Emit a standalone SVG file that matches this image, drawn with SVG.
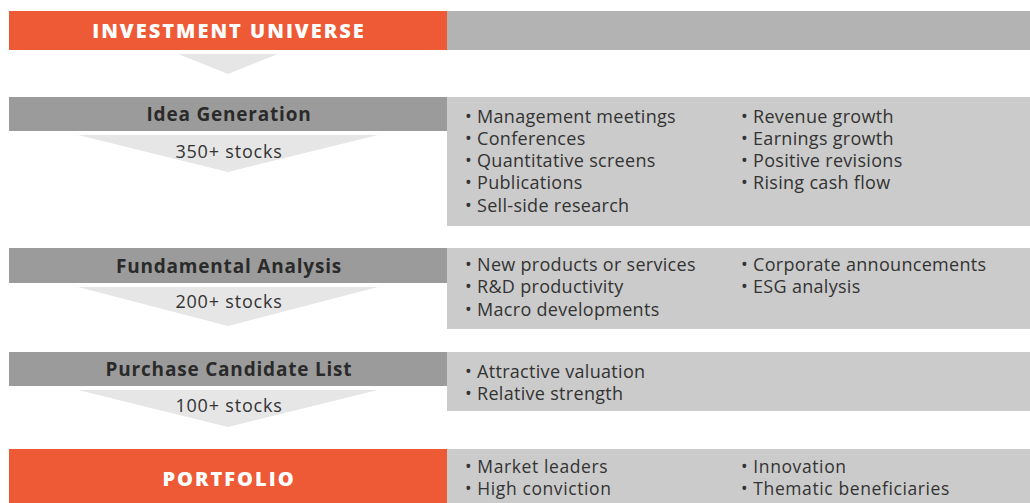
<svg xmlns="http://www.w3.org/2000/svg" width="1030" height="503" viewBox="0 0 1030 503">
<style>
.orange{fill:#ee5a36}
.dark{fill:#9b9b9b}
.panel{fill:#cbcbcb}
.toppanel{fill:#b3b3b3}
.chev{fill:#e6e6e6}
.title{font-family:"Open Sans","Liberation Sans",sans-serif;font-weight:700;font-size:19px;fill:#2a2a2a;text-anchor:middle;letter-spacing:0.8px}
.wtitle{font-family:"Open Sans","Liberation Sans",sans-serif;font-weight:800;font-size:20px;fill:#ffffff;text-anchor:middle;letter-spacing:2px}
.count{font-family:"Open Sans","Liberation Sans",sans-serif;font-size:18px;fill:#333333;text-anchor:middle;letter-spacing:0.8px}
.item{font-family:"Open Sans","Liberation Sans",sans-serif;font-size:18px;fill:#333333;letter-spacing:0.3px}
.pitem{font-family:"Open Sans","Liberation Sans",sans-serif;font-size:17.5px;fill:#333333;letter-spacing:0.6px}
</style>
<rect width="1030" height="503" fill="#ffffff"/>
<g id="connectors">
<polygon class="chev" points="178,54 278,54 228,74"/>
<polygon class="chev" points="78,135 378,135 228,172"/>
<polygon class="chev" points="78,287 378,287 228,326"/>
<polygon class="chev" points="78,390 378,390 228,427"/>
</g>
<g id="universe">
<rect class="orange" x="9" y="11" width="438" height="39"/>
<rect class="toppanel" x="447" y="11" width="583" height="39"/>
<text class="wtitle" x="229" y="38">INVESTMENT UNIVERSE</text>
</g>
<g id="idea">
<rect class="dark" x="9" y="97" width="438" height="34"/>
<rect class="panel" x="447" y="97" width="583" height="129"/>
<text class="title" x="229" y="121">Idea Generation</text>
<text class="count" x="229" y="158">350+ stocks</text>
<text class="item" x="465" y="123">• Management meetings</text>
<text class="item" x="465" y="145">• Conferences</text>
<text class="item" x="465" y="167">• Quantitative screens</text>
<text class="item" x="465" y="189">• Publications</text>
<text class="item" x="465" y="212">• Sell-side research</text>
<text class="item" x="741" y="123">• Revenue growth</text>
<text class="item" x="741" y="145">• Earnings growth</text>
<text class="item" x="741" y="167">• Positive revisions</text>
<text class="item" x="741" y="189">• Rising cash flow</text>
</g>
<g id="fundamental">
<rect class="dark" x="9" y="248" width="438" height="35"/>
<rect class="panel" x="447" y="248" width="583" height="81"/>
<text class="title" x="229" y="273">Fundamental Analysis</text>
<text class="count" x="229" y="308">200+ stocks</text>
<text class="item" x="465" y="271">• New products or services</text>
<text class="item" x="465" y="293">• R&amp;D productivity</text>
<text class="item" x="465" y="316">• Macro developments</text>
<text class="item" x="741" y="271">• Corporate announcements</text>
<text class="item" x="741" y="293">• ESG analysis</text>
</g>
<g id="purchase">
<rect class="dark" x="9" y="352" width="438" height="34"/>
<rect class="panel" x="447" y="352" width="583" height="59"/>
<text class="title" x="229" y="376">Purchase Candidate List</text>
<text class="count" x="229" y="412">100+ stocks</text>
<text class="item" x="465" y="378">• Attractive valuation</text>
<text class="item" x="465" y="400">• Relative strength</text>
</g>
<g id="portfolio">
<rect class="orange" x="9" y="449" width="438" height="54"/>
<rect class="panel" x="447" y="449" width="583" height="54"/>
<text class="wtitle" x="229" y="486">PORTFOLIO</text>
<text class="pitem" x="465" y="473">• Market leaders</text>
<text class="pitem" x="465" y="495">• High conviction</text>
<text class="pitem" x="741" y="473">• Innovation</text>
<text class="pitem" x="741" y="495">• Thematic beneficiaries</text>
</g>
</svg>
